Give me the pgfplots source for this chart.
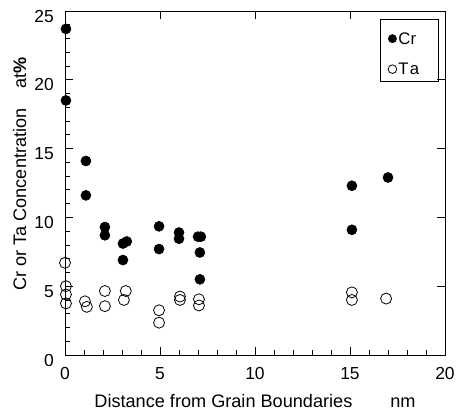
\documentclass[border=0pt]{standalone}
\usepackage{fontspec}
\setmainfont{Liberation Sans}
\usepackage{pgfplots}
\pgfplotsset{compat=1.18}
\begin{document}
\begin{tikzpicture}
\useasboundingbox (-65bp,-61bp) rectangle (394bp,355bp);
\begin{axis}[
  at={(0,0)}, anchor=south west,
  scale only axis, width=380bp, height=344bp,
  xmin=0, xmax=20, ymin=0, ymax=25,
  clip=false,
  axis line style={line width=0.8bp},
  xtick={0,5,10,15,20}, ytick={0,5,10,15,20,25},
  minor x tick num=4, minor y tick num=4,
  tick align=inside, xtick pos=left, ytick pos=left,
  major tick length=8bp, minor tick length=5bp,
  tick style={line width=0.8bp, black},
  font=\fontsize{18.2}{21}\selectfont,
  /pgf/number format/assume math mode=true,
  ticklabel style={font=\fontsize{17.5}{20}\selectfont},
  yticklabel style={anchor=east, inner sep=0pt, xshift=-11bp, yshift=-5bp},
  xticklabel style={anchor=north, inner sep=0pt, yshift=-12bp},
  xlabel={Distance from Grain Boundaries\hspace{38bp}nm},
  ylabel={Cr or Ta Concentration\hspace{20bp}at\textbf{\%}},
  xlabel style={at={(axis cs:10,-3.78)}, anchor=base, inner sep=0pt},
  ylabel style={at={(axis cs:-2.05,13.15)}, anchor=base, inner sep=0pt},
  legend style={at={(rel axis cs:0.9825,0.978)}, anchor=north east, draw=black,
    line width=0.8bp, inner xsep=2bp, inner ysep=2bp,
    font=\fontsize{16.8}{20}\selectfont, cells={anchor=west}, row sep=2.1bp,
    nodes={inner sep=0bp, text height=23.5bp, text depth=4.9bp}},
  legend image code/.code={\path[draw=none, fill=none] (-10.5bp,-4.3bp) rectangle (6bp,4.3bp); \draw[#1, yshift=-3.5bp] plot coordinates {(0bp,0bp)};},
]
\addplot[only marks, mark=*, mark size=5bp, black, mark options={fill=black, line width=0.6bp},
  legend image post style={mark size=4.1bp}] coordinates {
(0.05,23.7) (0.05,18.5) (1.1,14.1) (1.1,11.6) (2.1,9.3) (2.1,8.7)
(3.05,8.1) (3.25,8.25) (3.05,6.9) (4.95,9.35) (4.95,7.7) (6.0,8.9)
(6.0,8.45) (7.0,8.6) (7.15,8.6) (7.1,7.45) (7.1,5.5) (15.1,12.3)
(15.1,9.1) (17.0,12.9)
};
\addlegendentry{\makebox[37.5bp][l]{Cr}}
\addplot[only marks, mark=o, mark size=5.5bp, black, mark options={line width=0.8bp},
  legend image post style={mark size=4.3bp}] coordinates {
(0.0,6.7) (0.05,5.0) (0.05,4.4) (0.05,3.75) (1.05,3.9) (1.15,3.5)
(2.1,4.65) (2.1,3.55) (3.1,4.0) (3.2,4.65) (4.95,3.25) (4.95,2.35)
(6.05,4.25) (6.05,4.0) (7.05,4.05) (7.05,3.6) (15.1,4.55) (15.1,4.0)
(16.9,4.1)
};
\addlegendentry{\makebox[37.5bp][l]{T\kern1.2bp a}}
\end{axis}
\begin{axis}[
  at={(0,0)}, anchor=south west,
  scale only axis, width=380bp, height=344bp,
  xmin=0, xmax=20, ymin=0, ymax=25,
  axis line style={line width=0.8bp},
  xtick={5,10,15}, ytick={5,10,15,20},
  xtick pos=right, ytick pos=right, tick align=inside,
  major tick length=8bp, tick style={line width=0.8bp, black},
  xticklabels={}, yticklabels={},
]
\end{axis}
\end{tikzpicture}
\end{document}
